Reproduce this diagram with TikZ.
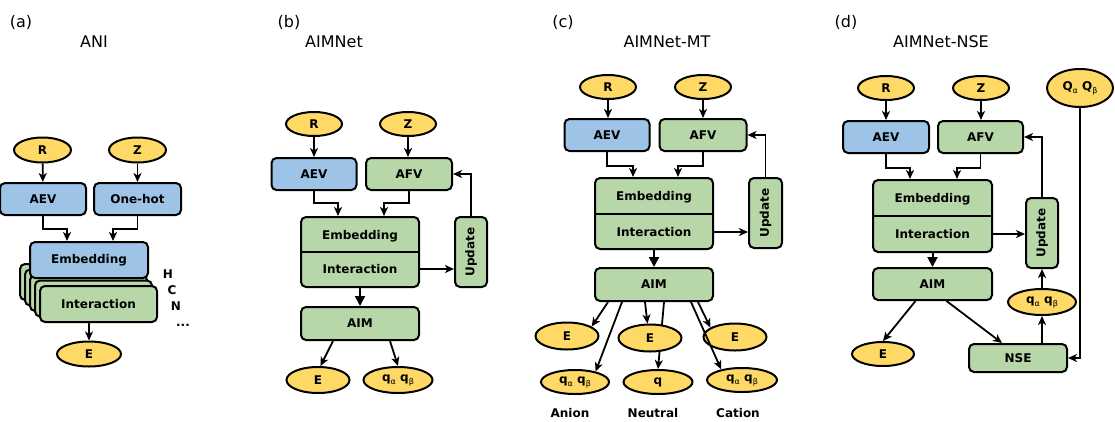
\documentclass[tikz,border=0pt]{standalone}
\usepackage{fontspec}
\setmainfont{DejaVu Sans}
\usetikzlibrary{shapes.geometric,arrows.meta,calc}
\definecolor{cy}{RGB}{255,217,102}
\definecolor{cb}{RGB}{157,195,230}
\definecolor{cg}{RGB}{183,215,168}
\newcommand\mysub[1]{\raisebox{-3pt}{\fontsize{8}{8}\selectfont\mdseries #1}}
\begin{document}
\begin{tikzpicture}[x=1pt,y=-1pt,
  lw/.style={line width=2pt},
  ell/.style={ellipse,draw,lw,fill=cy,inner sep=0pt,minimum width=57pt,minimum height=25pt,font=\fontsize{12}{12}\selectfont\bfseries},
  bbox/.style={rectangle,rounded corners=5pt,draw,lw,fill=cb,inner sep=0pt,minimum width=86pt,minimum height=32pt,font=\fontsize{12}{12}\selectfont\bfseries},
  gbox/.style={bbox,fill=cg},
  txt/.style={inner sep=0pt,font=\fontsize{12}{12}\selectfont\bfseries},
  ttl/.style={inner sep=0pt,font=\fontsize{16}{16}\selectfont},
  arr/.style={line width=1.8pt,-{Stealth[length=9pt,width=8pt,inset=2.5pt]}},
  barr/.style={line width=2pt,-{Triangle[length=10pt,width=10pt]}},
]
\useasboundingbox (0,0) rectangle (1115,421);

% ---------------- (a) ----------------
\node[ttl] (la) at (21,22) {(a)};
\node[ttl] (ta) at (94,42) {ANI};
\node[ell] (ra) at (42.5,150) {R};
\node[ell] (za) at (137.5,150) {Z};
\node[bbox] (aeva) at (43,199) {AEV};
\node[bbox,minimum width=87pt] (oha) at (137.5,199) {One-hot};
\foreach \k in {4,3,2,1}
  \node[gbox,minimum width=117pt,minimum height=36pt] (st\k) at (98.5-5*\k,304-5.5*\k) {};
\node[gbox,minimum width=117pt,minimum height=36pt] (inta) at (98.5,304) {Interaction};
\node[bbox,minimum width=118pt,minimum height=36pt] (emba) at (89,260) {Embedding};
\node[txt] (ha) at (168,274) {H};
\node[txt] (ca) at (172,290) {C};
\node[txt] (na) at (176,306) {N};
\node[txt] (da) at (183,325) {...};
\node[ell,minimum width=64pt] (ea) at (89,354) {E};
\draw[arr] (ra) -- (aeva);
\draw[arr] (za) -- (oha);
\draw[arr] (aeva.south) -- ++(0,13) -| ([xshift=-22pt]emba.north);
\draw[arr] (oha.south) -- ++(0,13) -| ([xshift=24pt]emba.north);
\draw[arr] (ea.north |- inta.south) -- (ea.north);

% ---------------- (b) ----------------
\node[ttl] (lb) at (289,22) {(b)};
\node[ttl] (tb) at (334,42) {AIMNet};
\node[ell,minimum width=56pt,minimum height=24pt] (rb) at (314,124) {R};
\node[ell,minimum width=56pt,minimum height=24pt] (zb) at (408,124) {Z};
\node[bbox,minimum width=85pt] (aevb) at (314,174) {AEV};
\node[gbox] (afvb) at (409,174) {AFV};
\node[gbox,minimum width=118pt,minimum height=70pt] (bb) at (360,252) {};
\draw[lw] (bb.west) -- (bb.east);
\node[txt] (embb) at (360,236) {Embedding};
\node[txt] (intb) at (360,269) {Interaction};
\node[gbox,minimum width=32pt,minimum height=70pt] (updb) at (471,252) {\rotatebox{90}{Update}};
\node[gbox,minimum width=118pt,minimum height=33pt] (aimb) at (360,323.5) {AIM};
\node[ell,minimum width=63pt,minimum height=26pt] (eb) at (318,380) {E};
\node[ell,minimum width=69pt,minimum height=26pt] (qb) at (398,380) {q\mysub{α} q\mysub{β}};
\draw[arr] (rb) -- (aevb);
\draw[arr] (zb.south) -- (zb.south |- afvb.north);
\draw[arr] (aevb.south) -- ++(0,12) -| ([xshift=-22pt]bb.north);
\draw[arr] (afvb.south) -- ++(0,12) -| ([xshift=24pt]bb.north);
\draw[arr] (intb -| bb.east) -- (intb -| updb.west);
\draw[arr] (updb.north) |- (afvb.east);
\draw[barr] (bb.south) -- (aimb.north);
\draw[arr] ([xshift=-27pt]aimb.south) -- (eb.80);
\draw[arr] ([xshift=30pt]aimb.south) -- (qb.north);

% ---------------- (c) ----------------
\node[ttl] (lc) at (563,22) {(c)};
\node[ttl] (tc) at (667,42) {AIMNet-MT};
\node[ell,minimum width=56pt,minimum height=24pt] (rc) at (608,87) {R};
\node[ell,minimum width=56pt,minimum height=24pt] (zc) at (703,87) {Z};
\node[bbox,minimum width=85pt] (aevc) at (607,135) {AEV};
\node[gbox,minimum width=87pt] (afvc) at (703,135) {AFV};
\node[gbox,minimum width=118pt,minimum height=71pt] (bc) at (654,213.5) {};
\draw[lw] (bc.west) -- (bc.east);
\node[txt] (embc) at (654,197) {Embedding};
\node[txt] (intc) at (654,232) {Interaction};
\node[gbox,minimum width=33pt,minimum height=70pt] (updc) at (765.5,213) {\rotatebox{90}{Update}};
\node[gbox,minimum width=118pt,minimum height=33pt] (aimc) at (654,284.5) {AIM};
\node[ell,minimum width=69pt,minimum height=24pt] (q3m) at (658,382) {q};
\draw[arr] ([xshift=10pt]aimc.south) -- (q3m.north);
\node[ell,minimum width=63pt,minimum height=27pt] (e3l) at (567,336) {E};
\node[ell,minimum width=63pt,minimum height=27pt] (e3m) at (650,338) {E};
\node[ell,minimum width=63pt,minimum height=27pt] (e3r) at (735,337) {E};
\node[ell,minimum width=68pt,minimum height=24pt] (q3l) at (575,382) {q\mysub{α} q\mysub{β}};
\node[ell,minimum width=70pt,minimum height=24pt] (q3r) at (742,380) {q\mysub{α} q\mysub{β}};
\node[txt] (anion) at (570,413) {Anion};
\node[txt] (neutral) at (653,413) {Neutral};
\node[txt] (cation) at (738,413) {Cation};
\draw[arr] (rc.south) -- (rc.south |- aevc.north);
\draw[arr] (zc) -- (afvc);
\draw[arr] (aevc.south) -- ++(0,14) -| ([xshift=-21pt]bc.north);
\draw[arr] (afvc.south) -- ++(0,14) -| ([xshift=24pt]bc.north);
\draw[arr] (intc -| bc.east) -- (intc -| updc.west);
\draw[arr] (updc.north) |- (afvc.east);
\draw[barr] (bc.south) -- (aimc.north);
\draw[arr] ([xshift=-46pt]aimc.south) -- (e3l.21);
\draw[arr] ([xshift=-32pt]aimc.south) -- (q3l.27);
\draw[arr] ([xshift=-9pt]aimc.south) -- (e3m.100);
\draw[arr] ([xshift=44pt]aimc.south) -- (e3r.159);
\draw[arr] ([xshift=37pt]aimc.south) -- (q3r.153);

% ---------------- (d) ----------------
\node[ttl] (ld) at (846,22) {(d)};
\node[ttl] (td) at (941,42) {AIMNet-NSE};
\node[ell,minimum width=56pt,minimum height=24pt] (rd) at (886,88) {R};
\node[ell,minimum width=56pt,minimum height=24pt] (zd) at (981,88) {Z};
\node[ell,minimum width=66pt,minimum height=38pt] (qqd) at (1080,88) {Q\mysub{α} Q\mysub{β}};
\node[bbox] (aevd) at (886,137) {AEV};
\node[gbox,minimum width=85pt] (afvd) at (980.5,137) {AFV};
\node[gbox,minimum width=119pt,minimum height=72pt] (bd) at (932.5,216) {};
\draw[lw] (bd.west) -- (bd.east);
\node[txt] (embd) at (932.5,199) {Embedding};
\node[txt] (intd) at (932.5,234) {Interaction};
\node[gbox,minimum width=32pt,minimum height=70pt] (updd) at (1042,233) {\rotatebox{90}{Update}};
\node[gbox,minimum width=119pt,minimum height=32pt] (aimd) at (932.5,284) {AIM};
\node[ell,minimum width=62pt,minimum height=24pt] (ed) at (883,354) {E};
\node[gbox,minimum width=98pt,minimum height=28pt] (nsed) at (1018,358) {NSE};
\node[ell,minimum width=68pt,minimum height=26pt] (qd) at (1042,302) {q\mysub{α} q\mysub{β}};
\draw[arr] (rd) -- (aevd);
\draw[arr] (zd.south) -- (zd.south |- afvd.north);
\draw[arr] (aevd.south) -- ++(0,14) -| ([xshift=-22.5pt]bd.north);
\draw[arr] (afvd.south) -- ++(0,14) -| ([xshift=24.5pt]bd.north);
\draw[arr] (intd -| bd.east) -- (intd -| updd.west);
\draw[arr] (updd.north) |- (afvd.east);
\draw[barr] (bd.south) -- (aimd.north);
\draw[arr] ([xshift=-17pt]aimd.south) -- (ed.north);
\draw[arr] ([xshift=14pt]aimd.south) -- ([xshift=-16pt]nsed.north);
\draw[arr] (qd.south |- nsed.north) -- (qd.south);
\draw[arr] (qd.north) -- (updd.south);
\draw[arr] (qqd.south) |- (nsed.east);
\end{tikzpicture}
\end{document}
